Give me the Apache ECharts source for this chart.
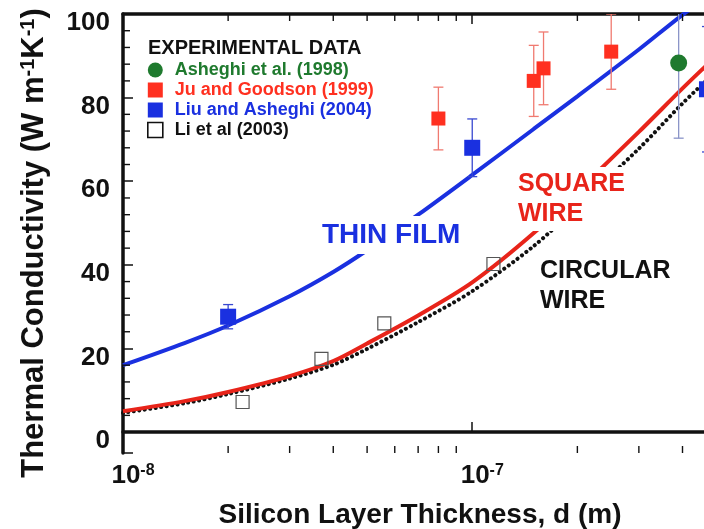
<!DOCTYPE html>
<html>
<head>
<meta charset="utf-8">
<script src="https://cdn.jsdelivr.net/npm/echarts@6/dist/echarts.min.js"></script>
<style>
  html, body { margin: 0; padding: 0; background: #fff; }
  #chart { width: 704px; height: 529px; }
</style>
</head>
<body>
<div id="chart"></div>
<script>
// Thermal conductivity of thin silicon layers versus layer thickness.
const FONT = '"Liberation Sans", Arial, Helvetica, sans-serif';

// Axis ranges
const xMin = 1e-8, xMax = 6e-7;
const yMin = -5, yMax = 100;

// Model curves: thickness (m) and conductivity (W m^-1 K^-1)
const modelThickness = [1e-8, 1.5e-8, 2e-8, 3e-8, 4e-8, 5e-8, 7e-8, 1e-7, 1.5e-7, 2e-7, 3e-7, 4e-7, 5e-7, 6e-7];
const thinFilm     = [16.0, 21.3, 25.5, 32.5, 38.3, 43.5, 52.0, 61.5, 72.5, 80.3, 91.5, 99.8, 105.5, 110.5];
const squareWire   = [5.0, 7.4, 9.6, 13.4, 17.0, 21.2, 27.9, 35.8, 47.6, 57.6, 71.8, 82.2, 90.0, 96.5];
const circularWire = [4.6, 6.9, 9.1, 12.8, 16.1, 19.9, 26.3, 33.7, 44.5, 54.0, 67.8, 78.6, 86.4, 93.0];

// Experimental data
const asheghiD = [3.9e-7];
const asheghiK = [88.3];
const asheghiErr = [18];

const juD = [8.0e-8, 1.5e-7, 1.6e-7, 2.5e-7];
const juK = [75.0, 84.0, 87.0, 91.0];
const juErr = [7.5, 8.5, 8.7, 9.0];

const liuD = [2.0e-8, 1.0e-7, 4.7e-7];
const liuK = [27.6, 68.0, 82.0];
const liuErr = [2.9, 6.9, 15];

const liD = [2.2e-8, 3.7e-8, 5.6e-8, 1.15e-7];
const liK = [7.2, 17.5, 26.0, 40.2];

// Tick positions between the labelled ones
const xMinorTicks = [2e-8, 3e-8, 4e-8, 5e-8, 6e-8, 7e-8, 8e-8, 9e-8, 2e-7, 3e-7, 4e-7, 5e-7];
const yMinorTicks = [4, 8, 12, 16, 24, 28, 32, 36, 44, 48, 52, 56, 64, 68, 72, 76, 84, 88, 92, 96];

const NAMES = {
  asheghi: 'Asheghi et al. (1998)',
  ju: 'Ju and Goodson (1999)',
  liu: 'Liu and Asheghi (2004)',
  li: 'Li et al (2003)'
};

const GREEN = '#1f7a2e';
const RED = '#ff3020';
const BLUE = '#1a30e0';
const INK = '#111';

const pairs = (xs, ys) => xs.map((x, i) => [x, ys[i]]);
const bars = (xs, ys, es) => xs.map((x, i) => [x, ys[i] - es[i], ys[i] + es[i]]);

function errorBarSeries(name, data, color) {
  return {
    type: 'custom', name: name, data: data, clip: true, silent: true, z: 3,
    renderItem: function (params, api) {
      const x = api.value(0);
      const lo = api.coord([x, api.value(1)]);
      const hi = api.coord([x, api.value(2)]);
      const cap = 5;
      const style = { stroke: color, lineWidth: 1.3 };
      return {
        type: 'group',
        children: [
          { type: 'line', shape: { x1: lo[0], y1: lo[1], x2: hi[0], y2: hi[1] }, style: style },
          { type: 'line', shape: { x1: hi[0] - cap, y1: hi[1], x2: hi[0] + cap, y2: hi[1] }, style: style },
          { type: 'line', shape: { x1: lo[0] - cap, y1: lo[1], x2: lo[0] + cap, y2: lo[1] }, style: style }
        ]
      };
    }
  };
}

function minorTickSeries(axis, values) {
  const len = 7;
  const data = axis === 'x' ? values.map(v => [v, yMin]) : values.map(v => [xMin, v]);
  return {
    type: 'custom', data: data, silent: true, clip: false, z: 6,
    renderItem: function (params, api) {
      const style = { stroke: INK, lineWidth: 1.4 };
      if (axis === 'x') {
        const v = api.value(0);
        const b = api.coord([v, yMin]);
        const t = api.coord([v, yMax]);
        return {
          type: 'group',
          children: [
            { type: 'line', shape: { x1: b[0], y1: b[1], x2: b[0], y2: b[1] - len }, style: style },
            { type: 'line', shape: { x1: t[0], y1: t[1], x2: t[0], y2: t[1] + len }, style: style }
          ]
        };
      }
      const p = api.coord([xMin, api.value(1)]);
      return { type: 'line', shape: { x1: p[0], y1: p[1], x2: p[0] + len, y2: p[1] }, style: style };
    }
  };
}

function powerLabel(value) {
  const e = Math.round(Math.log10(value));
  if (Math.abs(value / Math.pow(10, e) - 1) > 1e-6) return '';
  return '{b|10}{s|' + e + '}';
}

const logAxisBase = {
  type: 'log', logBase: 10, min: xMin, max: xMax,
  axisLine: { show: true, lineStyle: { color: INK, width: 3.5 } },
  axisTick: { show: true, inside: true, length: 10, lineStyle: { color: INK, width: 1.5 } },
  splitLine: { show: false },
  minorTick: { show: false }
};

const chart = echarts.init(document.getElementById('chart'), null, { renderer: 'canvas' });

chart.setOption({
  animation: false,
  backgroundColor: '#fff',
  grid: { left: 123, right: -40, top: 14, bottom: 76, containLabel: false, outerBoundsMode: 'none' },
  xAxis: [
    Object.assign({}, logAxisBase, {
      position: 'bottom',
      name: 'Silicon Layer Thickness, d (m)',
      nameLocation: 'middle',
      nameGap: 48,
      nameTextStyle: { fontFamily: FONT, fontSize: 28, fontWeight: 'bold', color: INK, padding: [0, 27, 0, 0] },
      axisLabel: {
        show: true, margin: 10, formatter: powerLabel, padding: [0, 0, 0, 20],
        rich: {
          b: { fontFamily: FONT, fontSize: 26, fontWeight: 'bold', color: INK, lineHeight: 26, verticalAlign: 'bottom' },
          s: { fontFamily: FONT, fontSize: 16, fontWeight: 'bold', color: INK, lineHeight: 16, verticalAlign: 'top', padding: [0, 0, 15, 0] }
        }
      }
    }),
    Object.assign({}, logAxisBase, {
      position: 'top',
      axisLabel: { show: false }
    })
  ],
  yAxis: {
    type: 'value', min: yMin, max: yMax, splitNumber: 5,
    axisLine: { show: true, lineStyle: { color: INK, width: 3.5 } },
    axisTick: { show: true, inside: true, length: 10, lineStyle: { color: INK, width: 1.5 } },
    splitLine: { show: false },
    axisLabel: {
      margin: 13, verticalAlign: 'top', lineHeight: 18,
      fontFamily: FONT, fontSize: 26, fontWeight: 'bold', color: INK,
      formatter: v => (v >= 0 && v % 20 === 0) ? String(v) : ''
    },
    name: '{a|Thermal Conductivity (W m}{s|-1}{a|K}{s|-1}{a|)}',
    nameLocation: 'middle',
    nameRotate: 90,
    nameGap: 68,
    nameTextStyle: {
      padding: [0, 19, 0, 0],
      rich: {
        a: { fontFamily: FONT, fontSize: 31, fontWeight: 'bold', color: INK, lineHeight: 31, verticalAlign: 'bottom' },
        s: { fontFamily: FONT, fontSize: 20, fontWeight: 'bold', color: INK, lineHeight: 20, verticalAlign: 'top', padding: [0, 0, 17, 0] }
      }
    }
  },
  legend: {
    left: 147, top: 61, padding: 0, orient: 'vertical',
    itemWidth: 15, itemHeight: 15, itemGap: 2,
    selectedMode: false,
    textStyle: { fontFamily: FONT, fontSize: 18, fontWeight: 'bold', padding: [0, 0, 0, 7] },
    data: [
      { name: NAMES.asheghi, icon: 'circle', itemStyle: { color: GREEN, opacity: 1 }, textStyle: { color: GREEN } },
      { name: NAMES.ju, icon: 'rect', itemStyle: { color: RED, opacity: 1 }, textStyle: { color: RED } },
      { name: NAMES.liu, icon: 'rect', itemStyle: { color: BLUE, opacity: 1 }, textStyle: { color: BLUE } },
      { name: NAMES.li, icon: 'rect', itemStyle: { color: '#fff', borderColor: INK, borderWidth: 1.6, opacity: 1 }, textStyle: { color: INK } }
    ]
  },
  graphic: [
    { type: 'text', left: 148, top: 38, z: 100, style: { text: 'EXPERIMENTAL DATA', font: 'bold 20px ' + FONT, fill: INK } },
    { type: 'text', left: 318, top: 216, z: 100, style: { text: 'THIN FILM', font: 'bold 28px ' + FONT, fill: BLUE, backgroundColor: '#fff', padding: [5, 4] } },
    { type: 'text', left: 513, top: 167, z: 100, style: { text: 'SQUARE\nWIRE', font: 'bold 25px ' + FONT, lineHeight: 30, fill: '#e8241a', backgroundColor: '#fff', padding: [2, 5] } },
    { type: 'text', left: 537, top: 256, z: 100, style: { text: 'CIRCULAR\nWIRE', font: 'bold 25px ' + FONT, lineHeight: 30, fill: INK, backgroundColor: '#fff', padding: [0, 3] } }
  ],
  series: [
    {
      type: 'line', name: 'Circular wire', data: pairs(modelThickness, circularWire),
      showSymbol: false, smooth: 0.3, clip: true, z: 2, silent: true,
      lineStyle: { color: INK, width: 4, type: [0.1, 5.4], cap: 'round' }
    },
    {
      type: 'line', name: 'Square wire', data: pairs(modelThickness, squareWire),
      showSymbol: false, smooth: 0.3, clip: true, z: 2, silent: true,
      lineStyle: { color: '#e8241a', width: 4 }
    },
    {
      type: 'line', name: 'Thin film', data: pairs(modelThickness, thinFilm),
      showSymbol: false, smooth: 0.3, clip: true, z: 2, silent: true,
      lineStyle: { color: BLUE, width: 4 }
    },
    errorBarSeries('Ju and Goodson error', bars(juD, juK, juErr), '#f07a70'),
    errorBarSeries('Liu and Asheghi error', bars(liuD, liuK, liuErr), '#3848d0'),
    errorBarSeries('Asheghi error', bars(asheghiD, asheghiK, asheghiErr), '#8a94c8'),
    {
      type: 'scatter', name: NAMES.asheghi, data: pairs(asheghiD, asheghiK), z: 4,
      symbol: 'circle', symbolSize: 17, itemStyle: { color: GREEN, opacity: 1 }
    },
    {
      type: 'scatter', name: NAMES.ju, data: pairs(juD, juK), z: 4, clip: false,
      symbol: 'rect', symbolSize: 14, itemStyle: { color: RED, opacity: 1 }
    },
    {
      type: 'scatter', name: NAMES.liu, data: pairs(liuD, liuK), z: 4,
      symbol: 'rect', symbolSize: 16, itemStyle: { color: BLUE, opacity: 1 }
    },
    {
      type: 'scatter', name: NAMES.li, data: pairs(liD, liK), z: 4,
      symbol: 'rect', symbolSize: 13,
      itemStyle: { color: 'rgba(255,255,255,0)', borderColor: '#555', borderWidth: 1.2, opacity: 1 }
    },
    minorTickSeries('x', xMinorTicks),
    minorTickSeries('y', yMinorTicks)
  ]
});
</script>
</body>
</html>
